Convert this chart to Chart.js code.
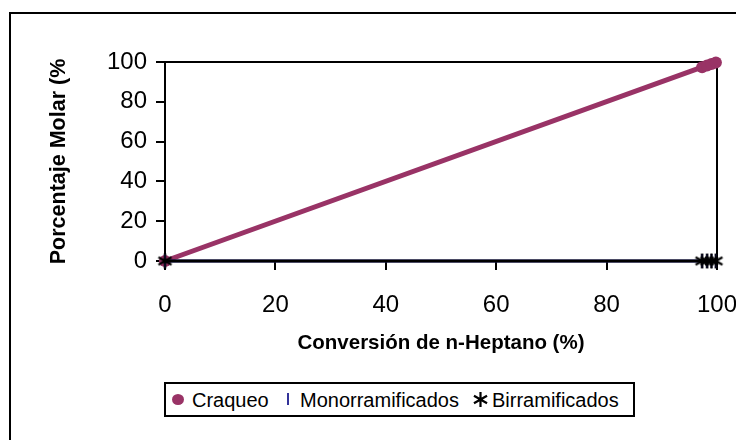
<!DOCTYPE html>
<html>
<head>
<meta charset="utf-8">
<script src="https://cdn.jsdelivr.net/npm/chart.js@4.4.1/dist/chart.umd.min.js"></script>
<style>
  html, body { margin: 0; padding: 0; background: #fff; }
  body { width: 736px; height: 440px; overflow: hidden; position: relative; font-family: Arial, "Liberation Sans", sans-serif; }
  #chart { position: absolute; left: 0; top: 0; }
  #frame { position: absolute; left: 9px; top: 12px; width: 800px; height: 500px; border: 2px solid #000; pointer-events: none; }
  #legend { position: absolute; left: 164px; top: 382px; width: 471px; height: 35px; border: 2px solid #000; box-sizing: border-box; background: #fff; }
  #legend .sym { position: absolute; }
  #legend .txt { position: absolute; top: 6px; font-size: 20px; line-height: 20px; color: #000; white-space: nowrap; }
</style>
</head>
<body>
<canvas id="chart" width="736" height="440"></canvas>
<div id="frame"></div>
<div id="legend"></div>

<script>
// ---- data ----
var seriesNames = ["Craqueo", "Monorramificados", "Birramificados"];
var conversion = [0, 97.3, 98.2, 99.0, 99.8];        // x: conversion de n-heptano (%)
var craqueo = [0, 97.4, 98.3, 99.0, 99.8];           // % molar
var monorramificados = [0, 0, 0, 0, 0];
var birramificados = [0, 0, 0, 0, 0];
var xTicks = [0, 20, 40, 60, 80, 100];
var yTicks = [0, 20, 40, 60, 80, 100];

var colors = ["#993366", "#333399", "#000000"];

function toPoints(xs, ys) {
  var pts = [];
  for (var i = 0; i < xs.length; i++) {
    pts.push({ x: xs[i], y: ys[i] });
  }
  return pts;
}

// asterisk marker (vertical bar + X), used for Birramificados
function makeStar(size, color) {
  var c = document.createElement("canvas");
  c.width = size; c.height = size;
  var g = c.getContext("2d");
  var m = size / 2, r = size / 2 - 1;
  g.strokeStyle = color;
  g.lineWidth = 2.2;
  g.beginPath();
  g.moveTo(m, m - r); g.lineTo(m, m + r);
  g.moveTo(m - r * 0.87, m - r * 0.5); g.lineTo(m + r * 0.87, m + r * 0.5);
  g.moveTo(m - r * 0.87, m + r * 0.5); g.lineTo(m + r * 0.87, m - r * 0.5);
  g.stroke();
  return c;
}
var starImg = makeStar(17, colors[2]);

// box around the plot area (top and right sides)
var plotFrame = {
  id: "plotFrame",
  beforeDatasetsDraw: function (chart) {
    var a = chart.chartArea, ctx = chart.ctx;
    ctx.save();
    ctx.strokeStyle = "#000";
    ctx.lineWidth = 2;
    ctx.beginPath();
    ctx.moveTo(a.left - 9, a.top);
    ctx.lineTo(a.right, a.top);
    ctx.lineTo(a.right, a.bottom);
    ctx.stroke();
    ctx.restore();
  }
};

var tickFont = { family: "Arial, 'Liberation Sans', sans-serif", size: 24 };
var titleFontX = { family: "Arial, 'Liberation Sans', sans-serif", size: 20.5, weight: "bold" };
var titleFontY = { family: "Arial, 'Liberation Sans', sans-serif", size: 21.5, weight: "bold" };

var ctx = document.getElementById("chart").getContext("2d");

var myChart = new Chart(ctx, {
  type: "scatter",
  data: {
    datasets: [
      {
        label: seriesNames[0],
        data: toPoints(conversion, craqueo),
        showLine: true,
        borderColor: colors[0],
        backgroundColor: colors[0],
        borderWidth: 5,
        pointStyle: "circle",
        pointRadius: 6,
        pointBorderWidth: 0,
        clip: false,
        order: 3
      },
      {
        label: seriesNames[1],
        data: toPoints(conversion, monorramificados),
        showLine: true,
        borderColor: colors[1],
        backgroundColor: colors[1],
        borderWidth: 3,
        pointStyle: "line",
        rotation: 90,
        pointRadius: 7,
        pointBorderWidth: 2,
        clip: false,
        order: 2
      },
      {
        label: seriesNames[2],
        data: toPoints(conversion, birramificados),
        showLine: true,
        borderColor: colors[2],
        backgroundColor: colors[2],
        borderWidth: 3,
        pointStyle: starImg,
        pointRadius: 8,
        clip: false,
        order: 1
      }
    ]
  },
  options: {
    responsive: false,
    animation: false,
    layout: { padding: { top: 62, right: 19, left: 0, bottom: 0 } },
    plugins: {
      legend: { display: false },
      tooltip: { enabled: false }
    },
    scales: {
      x: {
        type: "linear",
        min: 0,
        max: 100,
        afterBuildTicks: function (scale) {
          scale.ticks = xTicks.map(function (v) { return { value: v }; });
        },
        afterFit: function (scale) {
          scale.height = 179;
          // the "100" label may run off the right edge
          scale.paddingLeft = 0;
          scale.paddingRight = 0;
        },
        grid: { drawOnChartArea: false, drawTicks: true, tickLength: 9, color: "#000", lineWidth: 2 },
        border: { display: true, color: "#000", width: 2 },
        ticks: { color: "#000", font: tickFont, padding: 21, maxRotation: 0 },
        title: {
          display: true,
          text: "Conversión de n-Heptano (%)",
          color: "#000",
          font: titleFontX,
          padding: { top: 0, bottom: 84 }
        }
      },
      y: {
        type: "linear",
        min: 0,
        max: 100,
        afterBuildTicks: function (scale) {
          scale.ticks = yTicks.map(function (v) { return { value: v }; });
        },
        afterFit: function (scale) { scale.width = 165; },
        grid: { drawOnChartArea: false, drawTicks: true, tickLength: 9, color: "#000", lineWidth: 2 },
        border: { display: true, color: "#000", width: 2 },
        ticks: { color: "#000", font: tickFont, padding: 9 },
        title: {
          display: true,
          text: "Porcentaje Molar (%",
          color: "#000",
          font: titleFontY,
          padding: { top: 46, bottom: 0 }
        }
      }
    }
  },
  plugins: [plotFrame]
});

// ---- legend (built from the same series names / colors) ----
var legend = document.getElementById("legend");
var symbols = [
  '<svg class="sym" style="left:5px;top:9px" width="14" height="13"><ellipse cx="7" cy="6.5" rx="6" ry="5.5" fill="' + colors[0] + '"/></svg>',
  '<svg class="sym" style="left:120px;top:8px" width="4" height="14"><rect x="1" y="1" width="2" height="12" fill="' + colors[1] + '"/></svg>',
  '<img class="sym" style="left:306px;top:7px" width="17" height="17" src="' + starImg.toDataURL() + '">'
];
var textLeft = [26, 134, 326];
for (var i = 0; i < seriesNames.length; i++) {
  legend.innerHTML += symbols[i] + '<span class="txt" style="left:' + textLeft[i] + 'px">' + seriesNames[i] + '</span>';
}
</script>
</body>
</html>
